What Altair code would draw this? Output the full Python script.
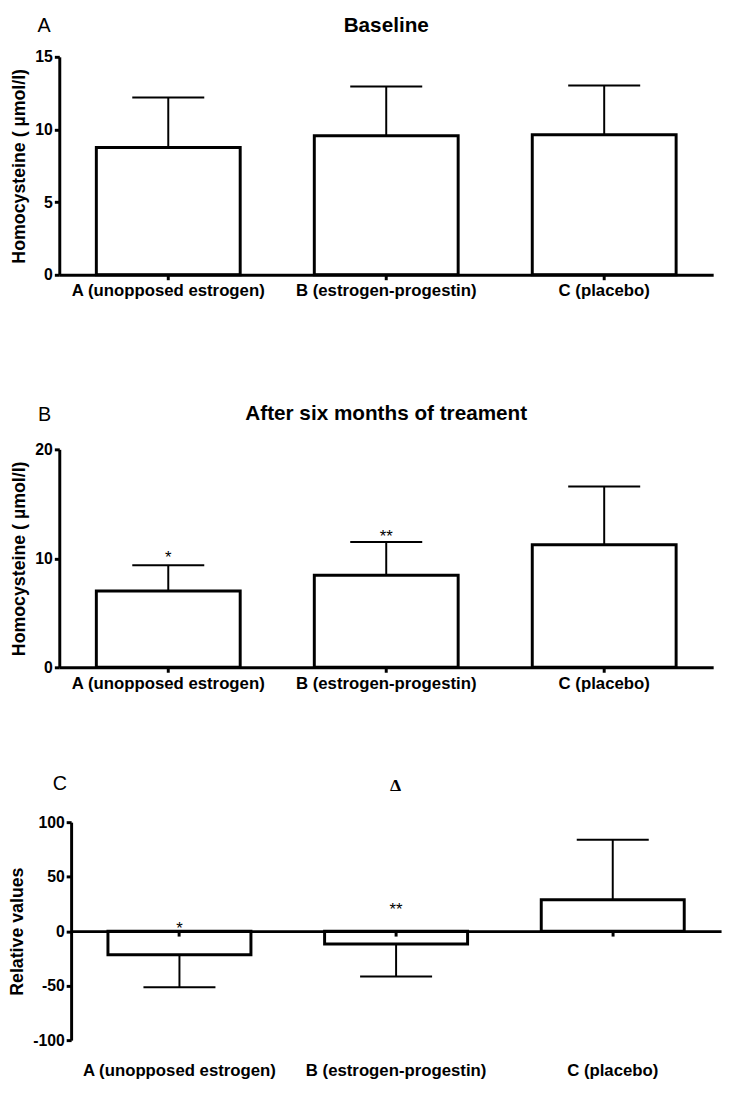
import altair as alt
import pandas as pd

groups = ["A (unopposed estrogen)", "B (estrogen-progestin)", "C (placebo)"]

baseline_mean = [8.76, 9.57, 9.64]
baseline_sd = [3.44, 3.39, 3.39]

month6_mean = [7.0, 8.45, 11.25]
month6_sd = [2.36, 3.05, 5.34]
month6_stars = ["*", "**", ""]
month6_star_y = [9.6, 11.5, 0]

delta_mean = [-21.7, -11.8, 28.8]
delta_sd = [29.8, 29.8, 55.0]
delta_stars = ["*", "**", ""]
delta_star_y = [-2.7, 14.5, 0]

panel_letters = ["A", "B", "C"]
panel_titles = ["Baseline", "After six months of treament", "\u0394"]
y_titles = ["Homocysteine ( \u00b5mol/l)", "Homocysteine ( \u00b5mol/l)", "Relative values"]
y_domains = [[0, 15], [0, 20], [-100, 100]]
y_tick_values = [[0, 5, 10, 15], [0, 10, 20], [-100, -50, 0, 50, 100]]

FONT = "Liberation Sans"
H = 221


def frame(mean, sd, stars, star_y):
    return pd.DataFrame({
        "group": groups,
        "mean": mean,
        "err": [m + (s if m >= 0 else -s) for m, s in zip(mean, sd)],
        "star": stars,
        "star_y": star_y,
    })


def panel(i, df, width, x_range=None, y_axis_offset=0, x_axis_offset=0,
          x_label_pad=3, title_x=None, title_y=-25, title_font=FONT,
          title_size=21, letter_x=-15.5, letter_y=-25):
    sc = dict(paddingInner=0.34, paddingOuter=0.17)
    if x_range is not None:
        sc["range"] = x_range
    x = alt.X(
        "group:N", sort=groups, scale=alt.Scale(**sc),
        axis=alt.Axis(title=None, labelAngle=0, labelFont=FONT, labelFontSize=17,
                      labelFontWeight="bold", labelColor="black", labelLimit=500,
                      labelPadding=x_label_pad, labelOverlap=False, labelFlush=False,
                      domainColor="black", domainWidth=3, tickColor="black",
                      tickWidth=3, tickSize=5, offset=x_axis_offset, zindex=1),
    )
    yscale = alt.Scale(domain=y_domains[i], nice=False, zero=True)
    yaxis = alt.Axis(values=y_tick_values[i], title=y_titles[i], grid=False,
                     labelExpr="'' + datum.value",
                     domainColor="black", domainWidth=3, tickColor="black",
                     tickWidth=3, tickSize=5, labelFont=FONT, labelFontSize=16,
                     labelFontWeight="bold", labelColor="black", labelPadding=2,
                     titleFont=FONT, titleFontSize=18, titleFontWeight="bold",
                     titleColor="black", titlePadding=6, offset=y_axis_offset)
    base = alt.Chart(df).encode(x=x)
    bars = base.mark_bar(fill="white", stroke="black", strokeWidth=3).encode(
        y=alt.Y("mean:Q", scale=yscale, axis=yaxis))
    err = base.mark_rule(color="black", strokeWidth=2).encode(y="mean:Q", y2="err:Q")
    cap = base.mark_tick(color="black", size=73, thickness=2, opacity=1).encode(y="err:Q")
    stars = base.transform_filter("datum.star != ''").mark_text(
        font=FONT, fontSize=17, baseline="alphabetic", color="black").encode(
        y="star_y:Q", text="star:N")
    letter = alt.Chart(pd.DataFrame({"t": [panel_letters[i]]})).mark_text(
        font=FONT, fontSize=20, baseline="alphabetic", align="center", color="black"
    ).encode(x=alt.value(letter_x), y=alt.value(letter_y), text="t:N")
    title = alt.Chart(pd.DataFrame({"t": [panel_titles[i]]})).mark_text(
        font=title_font, fontSize=title_size, fontWeight="bold", baseline="alphabetic",
        align="center", color="black"
    ).encode(x=alt.value(title_x if title_x is not None else width / 2),
             y=alt.value(title_y), text="t:N")
    return alt.layer(bars, err, cap, stars, letter, title).properties(width=width, height=H)


pA = panel(0, frame(baseline_mean, baseline_sd, ["", "", ""], [0, 0, 0]), 663,
           title_y=-25, letter_x=-15.5, letter_y=-25)
pB = panel(1, frame(month6_mean, month6_sd, month6_stars, month6_star_y), 663,
           title_y=-29.5, letter_x=-15, letter_y=-29)
pC = panel(2, frame(delta_mean, delta_sd, delta_stars, delta_star_y), 671,
           x_range=[12, 671], y_axis_offset=-12, x_axis_offset=-110.5,
           x_label_pad=128, title_x=341, title_y=-31.5, title_font="Liberation Serif",
           title_size=18, letter_x=0.5, letter_y=-33)

inner = alt.vconcat(pA, pB, spacing=106)
chart = alt.vconcat(inner, pC, spacing=84).configure_view(stroke=None).properties(
    padding={"left": 0, "top": 0, "right": 5, "bottom": 0}, background="white")

chart.save("out.html", embed_options={"renderer": "svg", "actions": False})
